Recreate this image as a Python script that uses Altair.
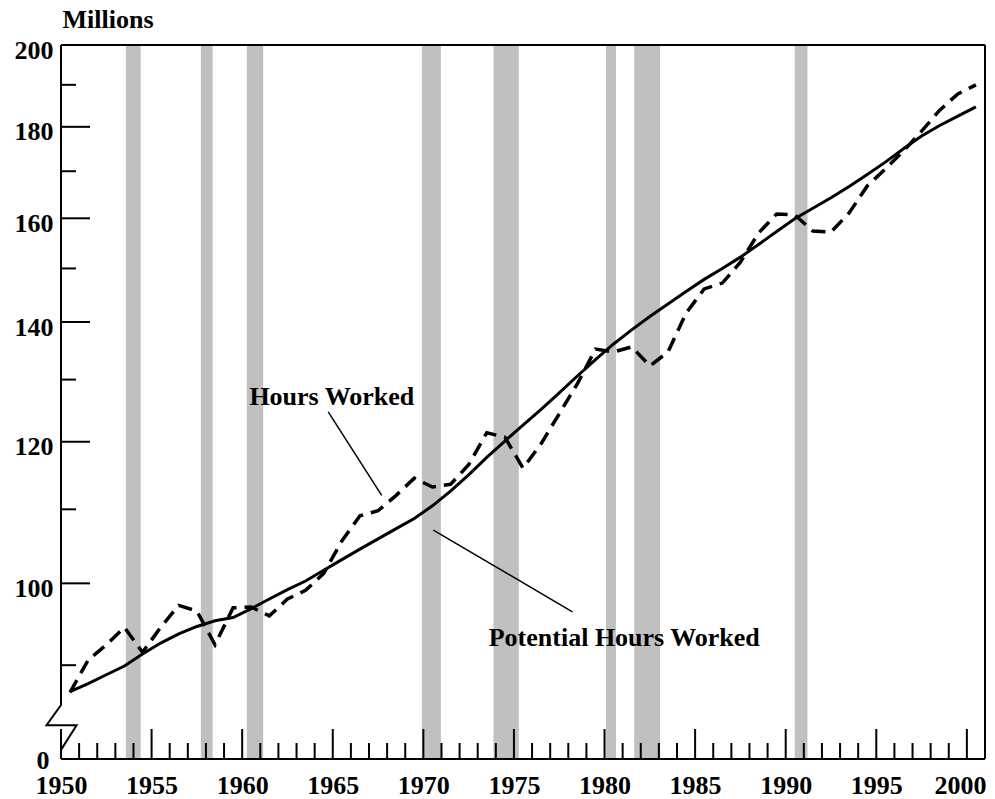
import altair as alt
import pandas as pd

# ---------------- data ----------------
years = list(range(1950, 2001))
hours_worked = [86.9, 90.6, 92.4, 94.5, 91.5, 94.5, 97.2, 96.5, 92.4, 96.9,
                97.0, 95.9, 98.0, 99.1, 101.3, 105.6, 109.1, 109.8, 112.0, 114.5,
                113.2, 113.6, 116.5, 121.4, 120.7, 116.0, 119.7, 124.4, 129.3, 135.2,
                134.7, 135.6, 132.3, 134.7, 141.6, 146.1, 147.2, 151.2, 157.0, 160.9,
                160.7, 157.4, 157.2, 161.1, 166.8, 170.5, 174.5, 179.0, 183.9, 187.8, 190.0]
potential_hours = [87.0, 87.9, 88.9, 89.9, 91.3, 92.6, 93.7, 94.6, 95.3, 95.7,
                   96.8, 98.0, 99.2, 100.3, 101.7, 103.1, 104.5, 105.9, 107.3, 108.7,
                   110.5, 112.6, 115.0, 117.6, 120.1, 122.6, 125.1, 127.8, 130.6, 133.4,
                   136.1, 138.6, 141.0, 143.3, 145.6, 147.9, 150.0, 152.2, 154.7, 157.3,
                   159.9, 162.1, 164.3, 166.7, 169.3, 172.0, 175.0, 177.9, 180.3, 182.5, 184.7]

recession_start = [1953.58, 1957.72, 1960.26, 1969.92, 1973.87, 1980.08, 1981.64, 1990.50]
recession_end = [1954.40, 1958.37, 1961.16, 1970.97, 1975.27, 1980.63, 1983.07, 1991.20]

x_label_years = list(range(1950, 2001, 5))
x_minor_years = [y for y in range(1951, 2001) if y % 5 != 0]
y_major = [100, 120, 140, 160, 180, 200]
y_minor = [90, 110, 130, 150, 170, 190]
y_floor = 79.76  # bottom of the broken axis, labelled "0"

label_text = ["Hours Worked", "Potential Hours Worked"]
label_x = [1964.95, 1981.09]
label_y = [127.1, 93.2]
leader_x = [1964.75, 1970.55]
leader_y = [124.7, 107.1]
leader_x2 = [1967.7, 1978.23]
leader_y2 = [112.0, 96.4]

# axis-break zigzag (in data coordinates)
break_x = [1950, 1950, 1949.2, 1950.86, 1950, 1950]
break_y = [200, 85.5, 83.3, 83.3, 80.7, y_floor]

# ---------------- chart ----------------
W, H = 924, 714
FONT = "Liberation Serif"

xs = alt.Scale(domain=[1950, 2001], nice=False, zero=False)
ys = alt.Scale(type="log", domain=[y_floor, 200], nice=False)

series = pd.DataFrame({"year": years, "hours": hours_worked, "potential": potential_hours})
rec = pd.DataFrame({"start": recession_start, "end": recession_end})

x_axis = alt.Axis(values=x_label_years, format="d", ticks=False, domain=False, grid=False,
                  labelFont=FONT, labelFontWeight="bold", labelFontSize=26, labelColor="black",
                  labelPadding=13, labelFlush=False, labelOverlap=False, title=None,
                  labelOffset={"condition": {"test": "datum.value >= 2000", "value": -7}, "value": 0})
y_axis = alt.Axis(values=[y_floor] + y_major, format="d", ticks=False, domain=False, grid=False,
                  labelExpr="datum.value < 90 ? '0' : datum.label",
                  labelFont=FONT, labelFontWeight="bold", labelFontSize=26, labelColor="black",
                  labelPadding={"condition": {"test": "datum.value < 90", "value": 12}, "value": 8},
                  labelFlush=False, labelOverlap=False,
                  labelOffset={"condition": {"test": "datum.value < 90", "value": 1}, "value": 5},
                  title="Millions", titleAngle=0, titleAlign="left", titleBaseline="alphabetic",
                  titleX=1, titleY=-18, titleFont=FONT, titleFontWeight="bold",
                  titleFontSize=26, titleColor="black")

bands = alt.Chart(rec).mark_rect(color="#c0c0c0").encode(
    x=alt.X("start:Q", scale=xs, axis=x_axis),
    x2="end:Q",
    y=alt.value(0), y2=alt.value(H),
)

xt_major = alt.Chart(pd.DataFrame({"yr": x_label_years})).mark_rule(color="black", strokeWidth=2).encode(
    x=alt.X("yr:Q", scale=xs), y=alt.value(H), y2=alt.value(H - 30))
xt_minor = alt.Chart(pd.DataFrame({"yr": x_minor_years})).mark_rule(color="black", strokeWidth=2).encode(
    x=alt.X("yr:Q", scale=xs), y=alt.value(H), y2=alt.value(H - 16))
yt_major = alt.Chart(pd.DataFrame({"v": y_major})).mark_rule(color="black", strokeWidth=2).encode(
    y=alt.Y("v:Q", scale=ys, axis=y_axis), x=alt.value(0), x2=alt.value(29))
yt_minor = alt.Chart(pd.DataFrame({"v": y_minor})).mark_rule(color="black", strokeWidth=2).encode(
    y=alt.Y("v:Q", scale=ys), x=alt.value(0), x2=alt.value(15))

frame_top = alt.Chart(pd.DataFrame({"v": [200]})).mark_rule(color="black", strokeWidth=2).encode(
    y=alt.Y("v:Q", scale=ys), x=alt.value(0), x2=alt.value(W))
frame_right = alt.Chart(pd.DataFrame({"v": [2001]})).mark_rule(color="black", strokeWidth=2).encode(
    x=alt.X("v:Q", scale=xs), y=alt.value(0), y2=alt.value(H))
frame_bottom = alt.Chart(pd.DataFrame({"v": [y_floor]})).mark_rule(color="black", strokeWidth=2).encode(
    y=alt.Y("v:Q", scale=ys), x=alt.value(0), x2=alt.value(W))
left_axis = alt.Chart(pd.DataFrame({"i": list(range(len(break_x))), "bx": break_x, "by": break_y})).mark_line(
    color="black", strokeWidth=2, clip=False).encode(
    x=alt.X("bx:Q", scale=xs), y=alt.Y("by:Q", scale=ys), order="i:Q")

base = alt.Chart(series).transform_calculate(t="datum.year + 0.5")
line_pot = base.mark_line(color="black", strokeWidth=3).encode(
    x=alt.X("t:Q", scale=xs), y=alt.Y("potential:Q", scale=ys))
line_hours = base.mark_line(color="black", strokeWidth=3.5, strokeDash=[14, 8]).encode(
    x=alt.X("t:Q", scale=xs), y=alt.Y("hours:Q", scale=ys))

leaders = alt.Chart(pd.DataFrame({"x": leader_x, "y": leader_y, "x2": leader_x2, "y2": leader_y2})).mark_rule(
    color="black", strokeWidth=1.5).encode(
    x=alt.X("x:Q", scale=xs), y=alt.Y("y:Q", scale=ys), x2="x2:Q", y2="y2:Q")
labels = alt.Chart(pd.DataFrame({"lab": label_text, "lx": label_x, "ly": label_y})).mark_text(
    font=FONT, fontWeight="bold", fontSize=26, color="black", align="center", baseline="middle").encode(
    x=alt.X("lx:Q", scale=xs), y=alt.Y("ly:Q", scale=ys), text="lab:N")

chart = alt.layer(
    bands, xt_major, xt_minor, yt_major, yt_minor,
    frame_top, frame_right, frame_bottom, left_axis,
    line_pot, line_hours, leaders, labels,
).properties(
    width=W, height=H,
    padding={"left": 53, "top": 37, "right": 2, "bottom": 36},
    autosize=alt.AutoSizeParams(type="none"),
    background="white",
).configure_view(stroke=None)

chart.save("out.html", embed_options={"renderer": "svg", "actions": False})
